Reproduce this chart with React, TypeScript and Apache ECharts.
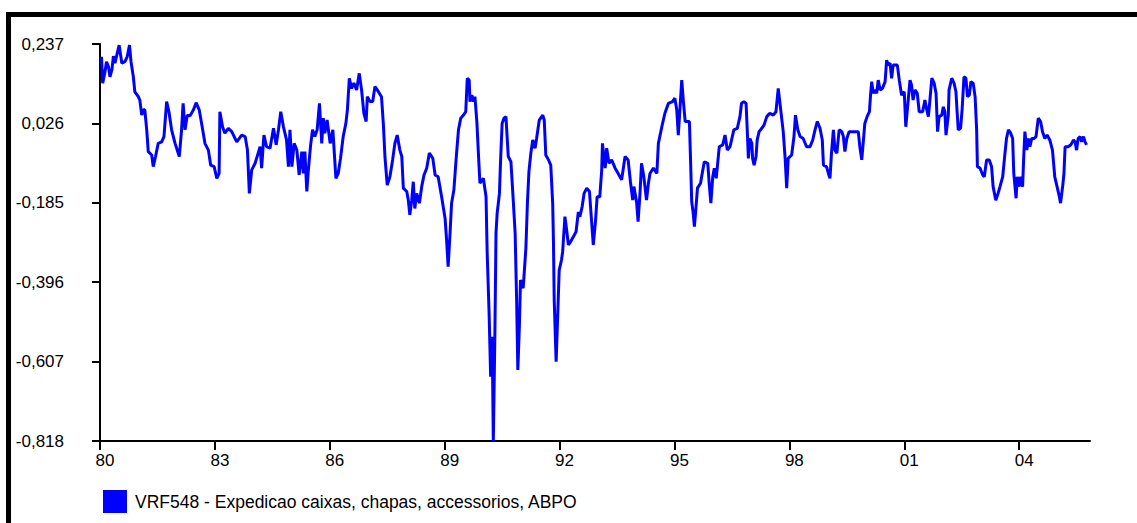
import React, { useEffect, useRef } from "react";
import * as echarts from "echarts";

const SERIES_NAME = "VRF548 - Expedicao caixas, chapas, accessorios, ABPO";

const xTickYears = [1980, 1983, 1986, 1989, 1992, 1995, 1998, 2001, 2004];
const xTickLabels = ["80", "83", "86", "89", "92", "95", "98", "01", "04"];
const yTicks = [-0.818, -0.607, -0.396, -0.185, 0.026, 0.237];

// [decimal year, value] points
const pts1980to1987: [number, number][] = [
  [1980.04,0.203],[1980.07,0.133],[1980.13,0.163],[1980.17,0.190],[1980.22,0.177],[1980.26,0.150],[1980.31,0.168],[1980.35,0.205],[1980.39,0.186],[1980.44,0.208],[1980.50,0.234],[1980.57,0.186],[1980.65,0.190],[1980.71,0.203],[1980.77,0.234],[1980.81,0.190],[1980.87,0.150],[1980.91,0.110],[1981.00,0.097],[1981.04,0.088],[1981.09,0.048],[1981.13,0.062],[1981.17,0.062],[1981.22,0.009],[1981.26,-0.049],[1981.35,-0.058],[1981.39,-0.089],[1981.45,-0.062],[1981.52,-0.027],[1981.61,-0.023],[1981.67,-0.009],[1981.74,0.084],[1981.80,0.057],[1981.87,0.009],[1981.96,-0.027],[1982.07,-0.062],[1982.13,0.009],[1982.17,0.079],[1982.22,0.009],[1982.28,0.048],[1982.35,0.046],[1982.44,0.062],[1982.51,0.081],[1982.59,0.062],[1982.66,0.022],[1982.74,-0.027],[1982.83,-0.045],[1982.89,-0.085],[1982.98,-0.089],[1983.05,-0.120],[1983.11,-0.107],[1983.13,0.057],[1983.20,0.017],[1983.26,0.000],[1983.35,0.013],[1983.44,0.004],[1983.57,-0.023],[1983.70,-0.005],[1983.79,-0.009],[1983.85,-0.045],[1983.90,-0.160],[1983.96,-0.098],[1984.05,-0.080],[1984.13,-0.053],[1984.18,-0.036],[1984.22,-0.093],[1984.28,-0.005],[1984.35,-0.036],[1984.44,-0.040],[1984.53,0.013],[1984.60,-0.031],[1984.66,0.009],[1984.72,0.057],[1984.79,0.017],[1984.87,-0.018],[1984.92,-0.089],[1984.96,0.009],[1985.01,-0.089],[1985.07,-0.027],[1985.14,-0.045],[1985.20,-0.111],[1985.27,-0.049],[1985.31,-0.107],[1985.35,-0.049],[1985.40,-0.155],[1985.44,-0.098],[1985.50,-0.031],[1985.55,0.009],[1985.61,-0.009],[1985.67,0.009],[1985.73,0.079],[1985.79,-0.027],[1985.83,0.040],[1985.87,0.000],[1985.93,0.035],[1986.01,-0.027],[1986.08,0.009],[1986.16,-0.120],[1986.22,-0.107],[1986.28,-0.067],[1986.35,-0.009],[1986.42,0.026],[1986.46,0.062],[1986.51,0.146],[1986.57,0.119],[1986.63,0.133],[1986.70,0.115],[1986.77,0.159],[1986.83,0.115],[1986.89,0.053],[1986.95,0.031],[1986.98,0.097],[1987.05,0.084],[1987.12,0.084],[1987.18,0.124],[1987.24,0.115],[1987.35,0.097]
];

const pts1987to1995: [number, number][] = [
  [1987.40,0.022],[1987.44,-0.062],[1987.50,-0.138],[1987.57,-0.116],[1987.64,-0.071],[1987.70,-0.027],[1987.76,-0.005],[1987.83,-0.045],[1987.88,-0.062],[1987.92,-0.146],[1988.01,-0.155],[1988.05,-0.178],[1988.09,-0.217],[1988.14,-0.178],[1988.18,-0.129],[1988.22,-0.200],[1988.27,-0.160],[1988.34,-0.186],[1988.40,-0.142],[1988.46,-0.111],[1988.53,-0.093],[1988.60,-0.053],[1988.69,-0.067],[1988.75,-0.111],[1988.83,-0.116],[1988.92,-0.169],[1989.01,-0.226],[1989.05,-0.284],[1989.09,-0.355],[1989.14,-0.266],[1989.18,-0.186],[1989.24,-0.151],[1989.30,-0.067],[1989.36,0.009],[1989.42,0.040],[1989.49,0.048],[1989.55,0.057],[1989.59,0.146],[1989.64,0.141],[1989.66,0.084],[1989.71,0.101],[1989.75,0.084],[1989.79,0.097],[1989.84,0.031],[1989.88,-0.053],[1989.92,-0.133],[1990.01,-0.120],[1990.08,-0.169],[1990.11,-0.319],[1990.16,-0.479],[1990.20,-0.647],[1990.24,-0.541],[1990.27,-0.818],[1990.31,-0.541],[1990.34,-0.266],[1990.37,-0.213],[1990.43,-0.160],[1990.46,-0.071],[1990.50,0.026],[1990.55,0.040],[1990.60,0.044],[1990.66,-0.062],[1990.73,-0.076],[1990.79,-0.178],[1990.84,-0.266],[1990.88,-0.452],[1990.91,-0.629],[1990.95,-0.514],[1990.98,-0.390],[1991.05,-0.412],[1991.12,-0.306],[1991.16,-0.186],[1991.20,-0.102],[1991.25,-0.053],[1991.30,-0.018],[1991.36,-0.040],[1991.40,-0.014],[1991.47,0.035],[1991.56,0.048],[1991.60,0.035],[1991.64,-0.058],[1991.71,-0.071],[1991.77,-0.085],[1991.82,-0.186],[1991.84,-0.288],[1991.86,-0.443],[1991.91,-0.607],[1991.95,-0.488],[1991.99,-0.364],[1992.05,-0.337],[1992.08,-0.315],[1992.14,-0.222],[1992.19,-0.262],[1992.23,-0.297],[1992.29,-0.288],[1992.36,-0.275],[1992.43,-0.262],[1992.49,-0.209],[1992.53,-0.222],[1992.59,-0.195],[1992.64,-0.160],[1992.71,-0.146],[1992.78,-0.155],[1992.84,-0.240],[1992.88,-0.297],[1992.94,-0.231],[1992.98,-0.169],[1993.05,-0.169],[1993.10,-0.098],[1993.12,-0.027],[1993.19,-0.093],[1993.23,-0.040],[1993.29,-0.080],[1993.36,-0.071],[1993.45,-0.093],[1993.53,-0.107],[1993.62,-0.124],[1993.71,-0.062],[1993.79,-0.071],[1993.85,-0.129],[1993.91,-0.178],[1993.94,-0.142],[1994.01,-0.182],[1994.05,-0.235],[1994.10,-0.160],[1994.14,-0.080],[1994.20,-0.116],[1994.27,-0.178],[1994.32,-0.133],[1994.36,-0.107],[1994.45,-0.093],[1994.54,-0.107],[1994.58,-0.027],[1994.67,0.017],[1994.75,0.053],[1994.84,0.079],[1994.95,0.084],[1995.01,0.093],[1995.06,0.062],[1995.10,-0.005]
];

const pts1995to2001: [number, number][] = [
  [1995.19,0.141],[1995.23,0.088],[1995.28,0.031],[1995.39,0.031],[1995.42,-0.071],[1995.45,-0.182],[1995.49,-0.213],[1995.52,-0.248],[1995.56,-0.200],[1995.60,-0.146],[1995.68,-0.133],[1995.74,-0.098],[1995.78,-0.076],[1995.87,-0.080],[1995.91,-0.138],[1995.95,-0.186],[1996.00,-0.116],[1996.04,-0.093],[1996.09,-0.120],[1996.12,-0.089],[1996.17,-0.036],[1996.26,-0.031],[1996.32,-0.005],[1996.38,-0.045],[1996.45,-0.036],[1996.55,0.009],[1996.64,0.013],[1996.71,0.044],[1996.75,0.079],[1996.81,0.084],[1996.87,0.079],[1996.90,0.009],[1996.93,-0.067],[1996.97,-0.014],[1997.02,-0.027],[1997.04,-0.067],[1997.08,-0.085],[1997.13,-0.062],[1997.16,-0.018],[1997.21,0.004],[1997.28,0.013],[1997.34,0.022],[1997.41,0.044],[1997.49,0.053],[1997.58,0.048],[1997.65,0.057],[1997.71,0.119],[1997.77,0.066],[1997.84,0.004],[1997.89,-0.067],[1997.93,-0.146],[1997.97,-0.067],[1998.06,-0.058],[1998.12,-0.009],[1998.16,0.048],[1998.22,0.009],[1998.28,-0.009],[1998.36,-0.014],[1998.45,-0.036],[1998.54,-0.036],[1998.61,-0.018],[1998.67,0.009],[1998.73,0.031],[1998.80,0.013],[1998.86,-0.018],[1998.89,-0.085],[1998.97,-0.089],[1999.02,-0.107],[1999.06,-0.120],[1999.10,-0.053],[1999.15,0.009],[1999.19,-0.045],[1999.24,-0.053],[1999.30,0.009],[1999.37,0.004],[1999.41,-0.009],[1999.45,-0.049],[1999.50,-0.014],[1999.56,0.004],[1999.67,0.004],[1999.80,0.004],[1999.84,-0.036],[1999.89,-0.071],[1999.93,-0.023],[1999.97,0.026],[2000.03,0.044],[2000.09,0.057],[2000.12,0.101],[2000.15,0.137],[2000.19,0.106],[2000.24,0.115],[2000.28,0.106],[2000.32,0.141],[2000.37,0.115],[2000.43,0.119],[2000.50,0.137],[2000.54,0.194],[2000.58,0.181],[2000.63,0.186],[2000.67,0.146],[2000.71,0.181],[2000.82,0.181],[2000.87,0.141],[2000.93,0.101],[2001.00,0.110],[2001.04,0.017],[2001.10,0.084],[2001.15,0.141],[2001.19,0.128],[2001.23,0.088],[2001.28,0.115],[2001.34,0.106],[2001.39,0.057],[2001.48,0.057],[2001.54,0.088],[2001.58,0.066],[2001.63,0.044],[2001.67,0.088],[2001.72,0.146],[2001.78,0.133],[2001.83,0.106],[2001.87,0.004],[2001.91,0.044]
];

const pts2002to2005: [number, number][] = [
  [2001.98,0.048],[2002.02,0.070],[2002.06,0.057],[2002.09,-0.005],[2002.15,0.048],[2002.17,0.115],[2002.24,0.146],[2002.30,0.133],[2002.35,0.110],[2002.38,0.057],[2002.41,0.009],[2002.47,0.013],[2002.51,0.062],[2002.56,0.150],[2002.61,0.146],[2002.65,0.097],[2002.70,0.101],[2002.74,0.137],[2002.80,0.133],[2002.85,0.097],[2002.89,0.009],[2002.91,-0.089],[2002.98,-0.093],[2003.05,-0.111],[2003.09,-0.116],[2003.15,-0.071],[2003.22,-0.071],[2003.28,-0.089],[2003.32,-0.142],[2003.39,-0.178],[2003.45,-0.160],[2003.50,-0.142],[2003.57,-0.116],[2003.63,-0.053],[2003.67,-0.014],[2003.72,0.009],[2003.78,0.000],[2003.83,-0.014],[2003.86,-0.107],[2003.92,-0.173],[2003.95,-0.116],[2004.00,-0.142],[2004.04,-0.116],[2004.09,-0.142],[2004.12,-0.062],[2004.15,0.004],[2004.20,-0.045],[2004.24,-0.014],[2004.28,-0.036],[2004.33,-0.014],[2004.39,-0.014],[2004.44,-0.009],[2004.50,0.040],[2004.56,0.031],[2004.61,0.004],[2004.67,-0.014],[2004.73,-0.005],[2004.80,-0.018],[2004.87,-0.045],[2004.93,-0.116],[2004.99,-0.142],[2005.05,-0.169],[2005.08,-0.186],[2005.14,-0.138],[2005.17,-0.107],[2005.20,-0.036],[2005.28,-0.036],[2005.35,-0.031],[2005.42,-0.018],[2005.46,-0.023],[2005.50,-0.045],[2005.54,-0.014],[2005.59,-0.009],[2005.63,-0.023],[2005.68,-0.009],[2005.72,-0.023],[2005.76,-0.031]
];

const X_MIN = 1980;
const X_MAX = 2005.85;

export default function App() {
  const ref = useRef<HTMLDivElement>(null);

  useEffect(() => {
    if (!ref.current) return;
    const chart = echarts.init(ref.current, null, { renderer: "svg" });
    const font = "'Liberation Sans', Arial, sans-serif";
    const data = [...pts1980to1987, ...pts1987to1995, ...pts1995to2001, ...pts2002to2005];
    chart.setOption({
      animation: false,
      backgroundColor: "#ffffff",
      grid: { left: 100, right: 47, top: 44, bottom: 82, containLabel: false },
      xAxis: {
        type: "value",
        min: X_MIN,
        max: X_MAX,
        axisLine: { show: true, onZero: false, lineStyle: { color: "#000", width: 2 } },
        axisTick: { show: true, length: 9, customValues: xTickYears, lineStyle: { color: "#000", width: 2 } },
        axisLabel: {
          customValues: xTickYears,
          color: "#000",
          fontSize: 17,
          fontFamily: font,
          margin: 11,
          padding: [0, 0, 0, 10],
          formatter: (v: number) => {
            const i = xTickYears.indexOf(Math.round(v));
            return i >= 0 ? xTickLabels[i] : "";
          },
        },
        splitLine: { show: false },
      },
      yAxis: {
        type: "value",
        min: yTicks[0],
        max: yTicks[yTicks.length - 1],
        axisLine: { show: true, onZero: false, lineStyle: { color: "#000", width: 2 } },
        axisTick: { show: true, length: 8, customValues: yTicks, lineStyle: { color: "#000", width: 2 } },
        axisLabel: {
          customValues: yTicks,
          color: "#000",
          fontSize: 17,
          fontFamily: font,
          margin: 36,
          formatter: (v: number) => v.toFixed(3).replace(".", ","),
        },
        splitLine: { show: false },
      },
      legend: {
        show: true,
        left: 103,
        top: 490,
        padding: 0,
        icon: "rect",
        itemWidth: 24,
        itemHeight: 23,
        data: [SERIES_NAME],
        textStyle: { color: "#000", fontSize: 17.5, fontFamily: font, padding: [0, 0, 0, 3] },
      },
      graphic: [
        { type: "rect", shape: { x: 6, y: 12, width: 1131, height: 5 }, style: { fill: "#000" } },
        { type: "rect", shape: { x: 6, y: 12, width: 5, height: 511 }, style: { fill: "#000" } },
      ],
      series: [
        {
          name: SERIES_NAME,
          type: "line",
          data,
          symbol: "none",
          showSymbol: false,
          clip: false,
          color: "#0000ff",
          lineStyle: { color: "#0000ff", width: 3 },
          itemStyle: { color: "#0000ff" },
        },
      ],
    });
    return () => chart.dispose();
  }, []);

  return (
    <div
      ref={ref}
      style={{ position: "fixed", left: 0, top: 0, width: 1137, height: 523, background: "#fff" }}
    />
  );
}
